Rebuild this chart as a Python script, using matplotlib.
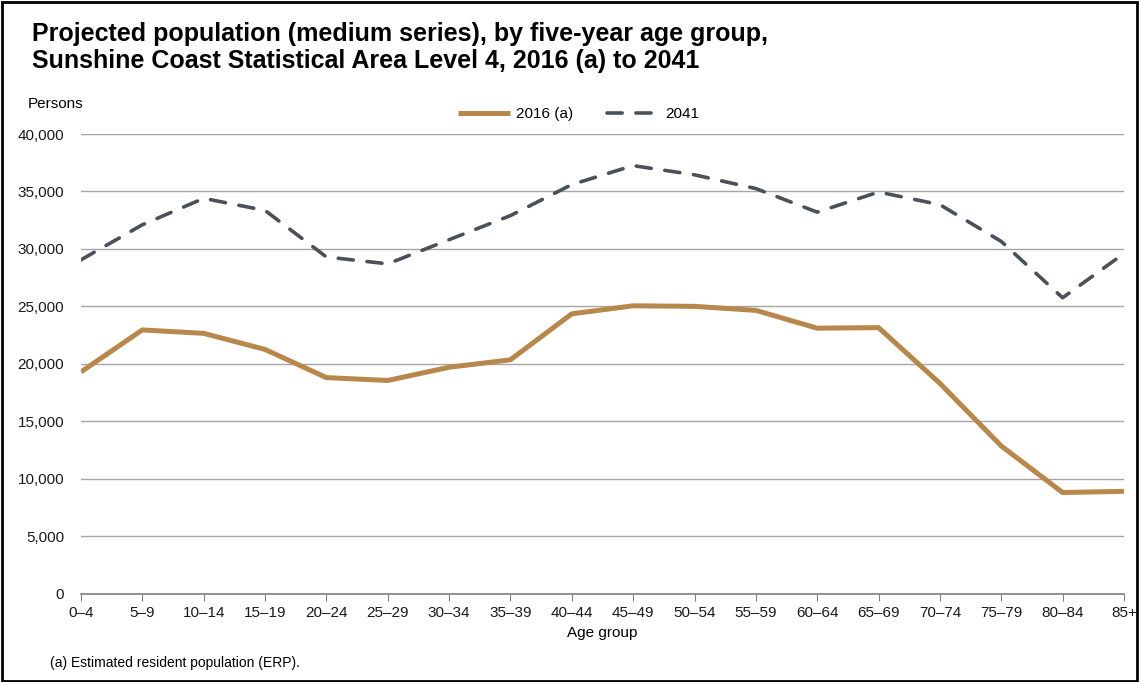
import matplotlib.pyplot as plt
import numpy as np

plt.rcParams['font.family'] = ['Liberation Sans', 'DejaVu Sans']

age_groups = ['0–4', '5–9', '10–14', '15–19', '20–24', '25–29', '30–34', '35–39',
              '40–44', '45–49', '50–54', '55–59', '60–64', '65–69', '70–74',
              '75–79', '80–84', '85+']
pop_2016 = [19300, 22950, 22650, 21250, 18800, 18550, 19700, 20350, 24350,
            25050, 25000, 24650, 23100, 23150, 18300, 12850, 8800, 8900]
pop_2041 = [29050, 32100, 34400, 33350, 29300, 28700, 30800, 32900, 35600,
            37250, 36450, 35250, 33200, 34950, 33850, 30650, 25750, 29600]
y_ticks = [0, 5000, 10000, 15000, 20000, 25000, 30000, 35000, 40000]

GOLD = '#B8874B'
DARK = '#4B5159'
GRID = '#A6A6A6'

fig = plt.figure(figsize=(11.39, 6.82), dpi=100)
ax = fig.add_axes([0.0711, 0.1296, 0.9157, 0.6739])

x = np.arange(len(age_groups))
line16, = ax.plot(x, pop_2016, color=GOLD, linewidth=3.6, solid_capstyle='butt',
                  label='2016 (a)', zorder=3)
line41, = ax.plot(x, pop_2041, color=DARK, linewidth=2.6, linestyle=(0, (4.2, 3.8)),
                  dash_capstyle='round', label='2041', zorder=3)

ax.set_xlim(0, len(age_groups) - 1)
ax.set_ylim(0, 40000)
ax.set_yticks(y_ticks)
ax.set_yticklabels([f'{v:,}' for v in y_ticks], fontsize=11)
ax.set_xticks(x)
ax.set_xticklabels(age_groups, fontsize=11)

ax.grid(axis='y', color=GRID, linewidth=1)
ax.set_axisbelow(True)
for s in ['top', 'right', 'left']:
    ax.spines[s].set_visible(False)
ax.spines['bottom'].set_color('#808080')
ax.spines['bottom'].set_linewidth(1.2)
ax.tick_params(axis='y', length=0, pad=12, colors='#1a1a1a')
ax.tick_params(axis='x', length=5, color='#808080', direction='out', pad=4,
               labelcolor='#1a1a1a')

ax.set_xlabel('Age group', fontsize=11, labelpad=4)

fig.text(0.028, 0.968,
         'Projected population (medium series), by five-year age group,\n'
         'Sunshine Coast Statistical Area Level 4, 2016 (a) to 2041',
         fontsize=18, fontweight='bold', va='top', ha='left', linespacing=1.15)
fig.text(0.024, 0.847, 'Persons', fontsize=11, ha='left', va='center')
fig.text(0.044, 0.028, '(a) Estimated resident population (ERP).', fontsize=10,
         ha='left', va='center')

fig.legend(handles=[line16, line41], loc='center', bbox_to_anchor=(0.508, 0.833),
           ncol=2, frameon=False, fontsize=11, handlelength=3.4,
           columnspacing=2.2, handletextpad=0.4)

border = plt.Rectangle((0.002, 0.002), 0.996, 0.995, transform=fig.transFigure,
                       fill=False, edgecolor='black', linewidth=2)
fig.patches.append(border)

fig.savefig('out.png', dpi=100)
